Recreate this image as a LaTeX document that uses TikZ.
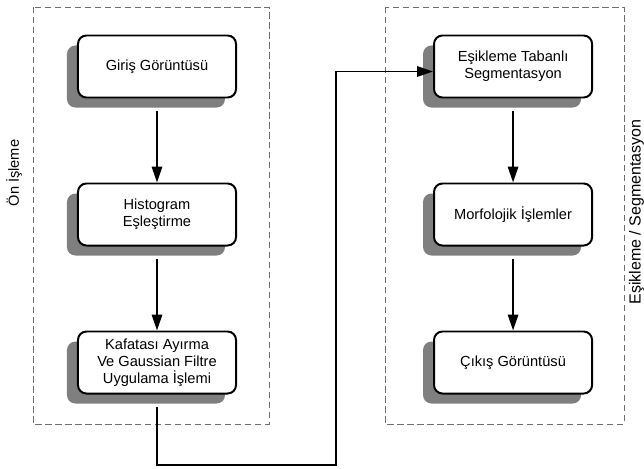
\documentclass[tikz,border=0pt]{standalone}
\usepackage{fontspec}
\setsansfont{Liberation Sans}
\usetikzlibrary{arrows.meta,positioning,shadows}
\definecolor{FrameGray}{HTML}{6E6E6E}
\definecolor{ShadowGray}{HTML}{7F7F7F}

\begin{document}
\begin{tikzpicture}[x=0.025cm,y=-0.025cm,
    node distance=2.1cm and 4.9cm,
    stepbox/.style={rounded corners=6pt,draw=black,line width=1.4pt,fill=white,
    minimum width=3.95cm,minimum height=1.55cm,align=center,
    font=\sffamily\fontsize{10.4}{12.2}\selectfont,
    drop shadow={shadow xshift=-0.275cm,shadow yshift=-0.25cm,fill=ShadowGray,opacity=1}},
    frame/.style={draw=FrameGray,line width=0.7pt,dash pattern=on 4.5pt off 2.6pt},
    sidelabel/.style={rotate=90,anchor=base,inner sep=0pt,font=\sffamily\fontsize{10.4}{12.2}\selectfont},
    arr/.style={-{Triangle[length=0.4cm,width=0.26cm]},line width=1.4pt,shorten <=0.32cm}]
    \useasboundingbox (0,0) rectangle (644,468);
    % frames
    \draw[frame] (33,7) rectangle (269,424);
    \draw[frame] (385,7) rectangle (624,424);
    \node[sidelabel] (onlabel) at (19,173) {Ön İşleme};
    \node[sidelabel,font=\sffamily\fontsize{11.4}{13}\selectfont] (seglabel) at (640.5,212) {Eşikleme / Segmentasyon};
    % steps
    \node[stepbox] (giris) at (157,66.5) {Giriş Görüntüsü};
    \node[stepbox,below=of giris] (hist) {Histogram\\Eşleştirme};
    \node[stepbox,below=of hist] (kafa) {Kafatası Ayırma\\Ve Gaussian Filtre\\Uygulama İşlemi};
    \node[stepbox,right=of giris] (esik) {Eşikleme Tabanlı\\Segmentasyon};
    \node[stepbox,below=of esik] (morf) {Morfolojik İşlemler};
    \node[stepbox,below=of morf] (cikis) {Çıkış Görüntüsü};
    \coordinate (turn) at (336,465);
    % flow
    \draw[arr] (giris)--(hist);
    \draw[arr] (hist)--(kafa);
    \draw[arr] (esik)--(morf);
    \draw[arr] (morf)--(cikis);
    \draw[arr,rounded corners=0pt] (kafa.south) |- (turn) |- ([yshift=-0.125cm]esik.west);
  \end{tikzpicture}
\end{document}
